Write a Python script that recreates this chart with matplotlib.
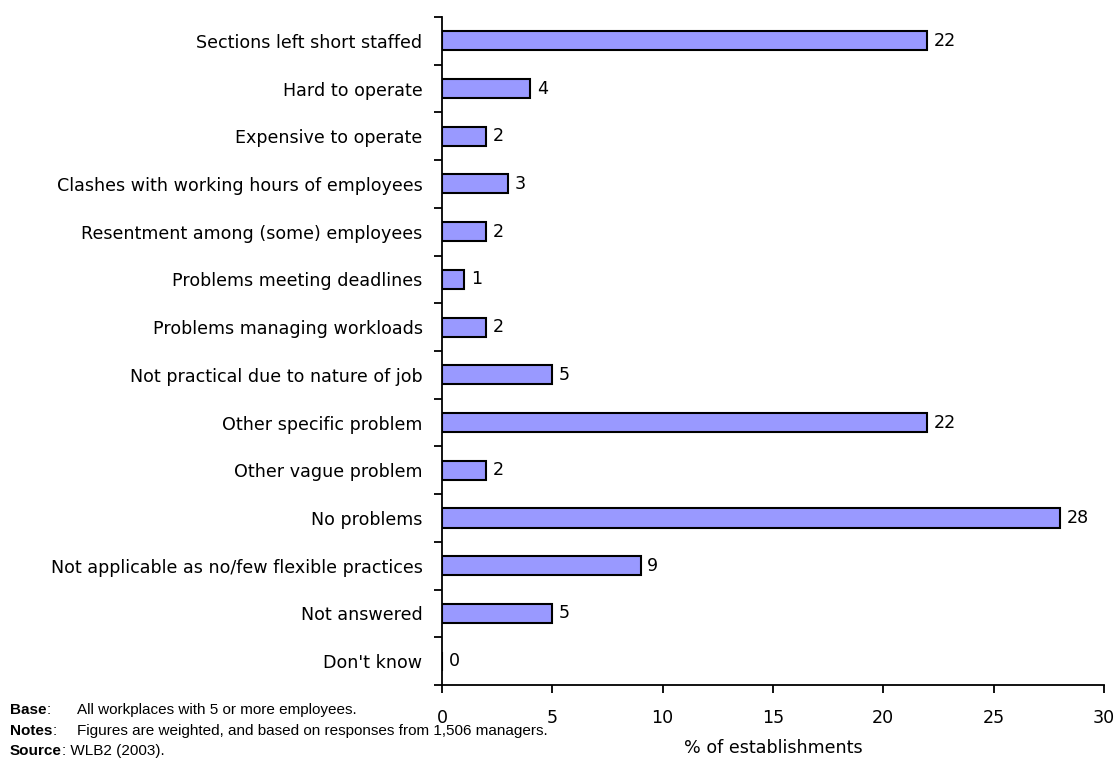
import matplotlib
matplotlib.use("Agg")
import matplotlib.pyplot as plt
from matplotlib import font_manager
from matplotlib.ticker import FixedLocator

# Survey responses: problems reported with flexible working practices
categories = [
    "Sections left short staffed",
    "Hard to operate",
    "Expensive to operate",
    "Clashes with working hours of employees",
    "Resentment among (some) employees",
    "Problems meeting deadlines",
    "Problems managing workloads",
    "Not practical due to nature of job",
    "Other specific problem",
    "Other vague problem",
    "No problems",
    "Not applicable as no/few flexible practices",
    "Not answered",
    "Don't know",
]
values = [22, 4, 2, 3, 2, 1, 2, 5, 22, 2, 28, 9, 5, 0]
x_ticks = [0, 5, 10, 15, 20, 25, 30]

installed = {f.name for f in font_manager.fontManager.ttflist}
note_font = "Liberation Sans" if "Liberation Sans" in installed else "DejaVu Sans"
plt.rcParams["font.family"] = ["DejaVu Sans"]

FS = 12.6

fig = plt.figure(figsize=(11.18, 7.70), dpi=100)
ax = fig.add_axes([0.3953, 0.1104, 0.5922, 0.8676])

ypos = list(range(len(categories)))
ax.barh(ypos, values, height=0.4, color="#9999FF",
        edgecolor="black", linewidth=1.5, zorder=3)

for y, v in zip(ypos, values):
    ax.text(v + 0.3, y, f"{v}", va="center", ha="left", fontsize=FS)

ax.set_xlim(0, 30)
ax.set_ylim(len(categories) - 0.5, -0.5)

ax.set_xticks(x_ticks)
ax.set_xticklabels([str(t) for t in x_ticks], fontsize=FS)
ax.tick_params(axis="x", direction="out", length=6, width=1.3, pad=11)

ax.set_yticks(ypos)
ax.set_yticklabels(categories, fontsize=FS)
ax.yaxis.set_minor_locator(FixedLocator([i - 0.5 for i in range(len(categories) + 1)]))
ax.tick_params(axis="y", which="major", length=0, pad=14)
ax.tick_params(axis="y", which="minor", direction="out", length=6, width=1.3)

for side in ("top", "right"):
    ax.spines[side].set_visible(False)
for side in ("left", "bottom"):
    ax.spines[side].set_linewidth(1.3)

ax.set_xlabel("% of establishments", fontsize=FS, labelpad=9)

# Footnotes: bold heading, then its colon placed right after the heading
renderer = fig.canvas.get_renderer()
note_kw = dict(fontsize=11, family=[note_font, "DejaVu Sans"], va="center")
notes = [
    ("Base", ":", "All workplaces with 5 or more employees.", 710),
    ("Notes", ":", "Figures are weighted, and based on responses from 1,506 managers.", 731),
    ("Source", ": WLB2 (2003).", None, 751),
]
for head, colon, body, ypix in notes:
    yfrac = 1 - ypix / 770
    h = fig.text(10 / 1118, yfrac, head, weight="bold", **note_kw)
    bb = h.get_window_extent(renderer)
    fig.text(bb.x1 / 1118, yfrac, colon, **note_kw)
    if body:
        fig.text(77 / 1118, yfrac, body, **note_kw)

fig.savefig("out.png", dpi=100)
